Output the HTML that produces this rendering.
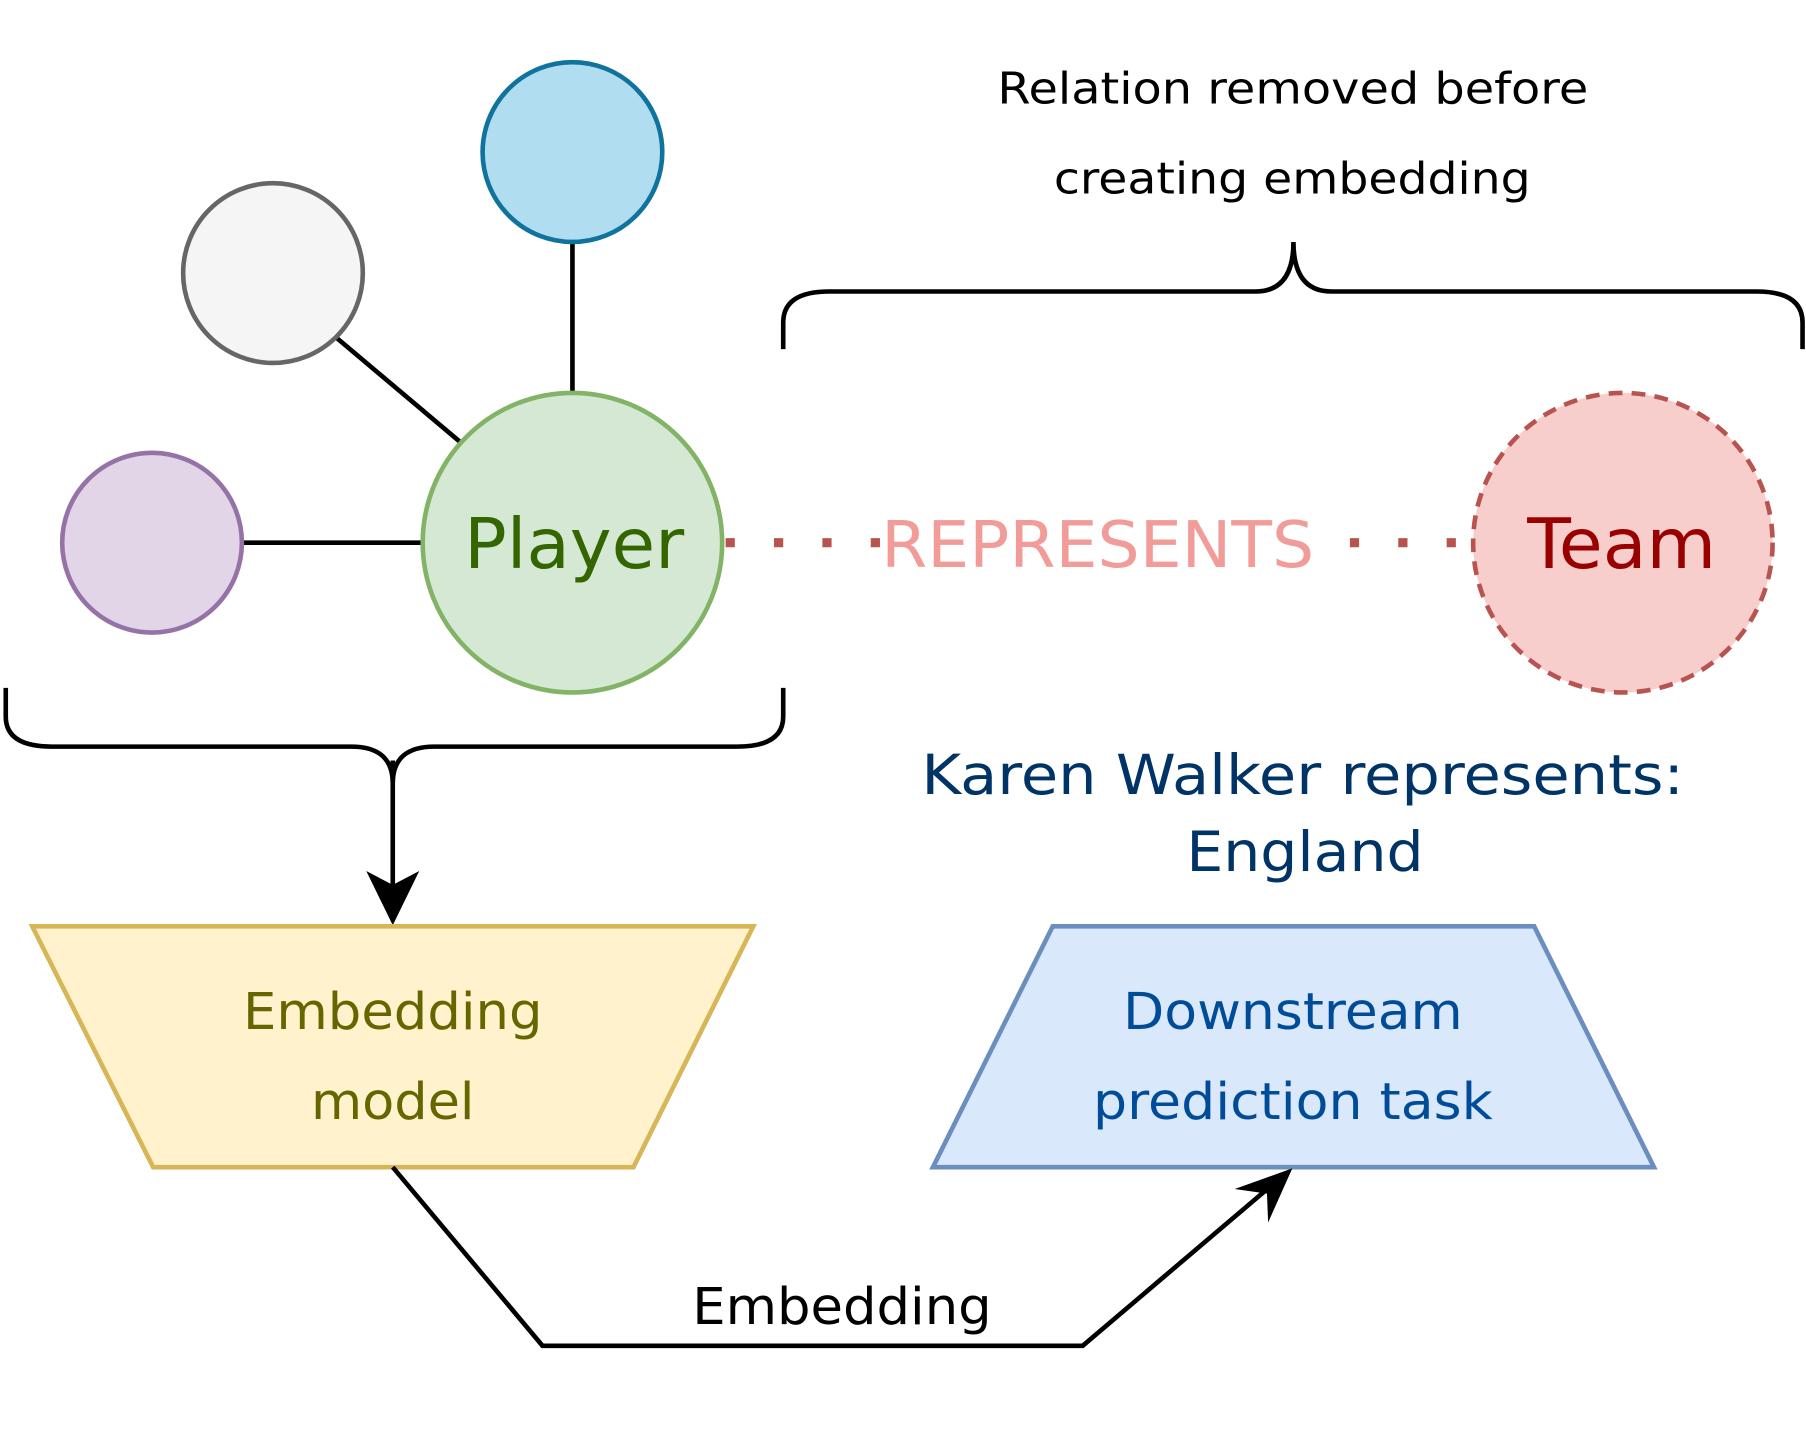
<!DOCTYPE html>
<html><head><meta charset="utf-8"><style>
html,body{margin:0;padding:0;background:#fff;}
svg{display:block;}
text{font-family:"DejaVu Sans","Liberation Sans",sans-serif;}
</style></head><body>
<svg width="1806" height="1446" viewBox="0 0 1568 1255" preserveAspectRatio="none" xmlns="http://www.w3.org/2000/svg">
<line x1="497" y1="210" x2="497" y2="341" stroke="#000" stroke-width="4"/>
<line x1="292" y1="293" x2="400" y2="384" stroke="#000" stroke-width="4"/>
<line x1="210" y1="471" x2="367" y2="471" stroke="#000" stroke-width="4"/>
<circle cx="497" cy="132" r="78" fill="#b1ddf0" stroke="#10739e" stroke-width="4"/>
<circle cx="237" cy="237" r="78" fill="#f5f5f5" stroke="#666" stroke-width="4"/>
<circle cx="132" cy="471" r="78" fill="#e1d5e7" stroke="#9673a6" stroke-width="4"/>
<circle cx="497" cy="471" r="130" fill="#d5e8d4" stroke="#82b366" stroke-width="4"/>
<circle cx="1409" cy="471" r="130" fill="#f8cecc" stroke="#b85450" stroke-width="4" stroke-dasharray="12,8"/>
<text x="403" y="493" textLength="191" lengthAdjust="spacingAndGlyphs" font-size="60" fill="#336600">Player</text>
<text x="1326" y="493" textLength="164" lengthAdjust="spacingAndGlyphs" font-size="60" fill="#990000">Team</text>
<line x1="630" y1="471" x2="765" y2="471" stroke="#b85450" stroke-width="8" stroke-dasharray="8,34"/>
<line x1="1172" y1="471" x2="1279" y2="471" stroke="#b85450" stroke-width="8" stroke-dasharray="8,34"/>
<text x="765" y="492" textLength="376" lengthAdjust="spacingAndGlyphs" font-size="56" fill="#f19c99">REPRESENTS</text>
<path d="M680,303 L680,280 Q680,253 720,253 L1090,253 Q1123,253 1123,210 Q1123,253 1156,253 L1525,253 Q1565,253 1565,280 L1565,303" fill="none" stroke="#000" stroke-width="4"/>
<text x="866" y="90" textLength="513" lengthAdjust="spacingAndGlyphs" font-size="38" fill="#000">Relation removed before</text>
<text x="915" y="168" textLength="414" lengthAdjust="spacingAndGlyphs" font-size="38" fill="#000">creating embedding</text>
<path d="M5,597 L5,622 Q5,648 45,648 L305,648 Q341,648 341,680 Q341,648 377,648 L640,648 Q680,648 680,622 L680,597" fill="none" stroke="#000" stroke-width="4"/>
<line x1="341" y1="660" x2="341" y2="780" stroke="#000" stroke-width="4"/>
<path d="M341,803 L318,756 L341,768 L364,756 Z" fill="#000"/>
<polygon points="28,804 654,804 550,1013 133,1013" fill="#fff2cc" stroke="#d6b656" stroke-width="4"/>
<text x="211" y="893" textLength="260" lengthAdjust="spacingAndGlyphs" font-size="44" fill="#666600">Embedding</text>
<text x="270" y="971" textLength="142" lengthAdjust="spacingAndGlyphs" font-size="44" fill="#666600">model</text>
<polygon points="914,804 1332,804 1436,1013 810,1013" fill="#dae8fc" stroke="#6c8ebf" stroke-width="4"/>
<text x="975" y="893" textLength="295" lengthAdjust="spacingAndGlyphs" font-size="44" fill="#004c99">Downstream</text>
<text x="949" y="971" textLength="347" lengthAdjust="spacingAndGlyphs" font-size="44" fill="#004c99">prediction task</text>
<text x="800" y="689" textLength="662" lengthAdjust="spacingAndGlyphs" font-size="48" fill="#003366">Karen Walker represents:</text>
<text x="1030" y="756" textLength="206" lengthAdjust="spacingAndGlyphs" font-size="48" fill="#003366">England</text>
<path d="M341,1013 L471,1168 L940,1168 L1105,1028" fill="none" stroke="#000" stroke-width="4"/>
<path d="M1122,1014 L1101,1061 L1100,1036 L1072,1032 Z" fill="#000"/>
<text x="601" y="1149" textLength="260" lengthAdjust="spacingAndGlyphs" font-size="44" fill="#000">Embedding</text>
</svg>
</body></html>
